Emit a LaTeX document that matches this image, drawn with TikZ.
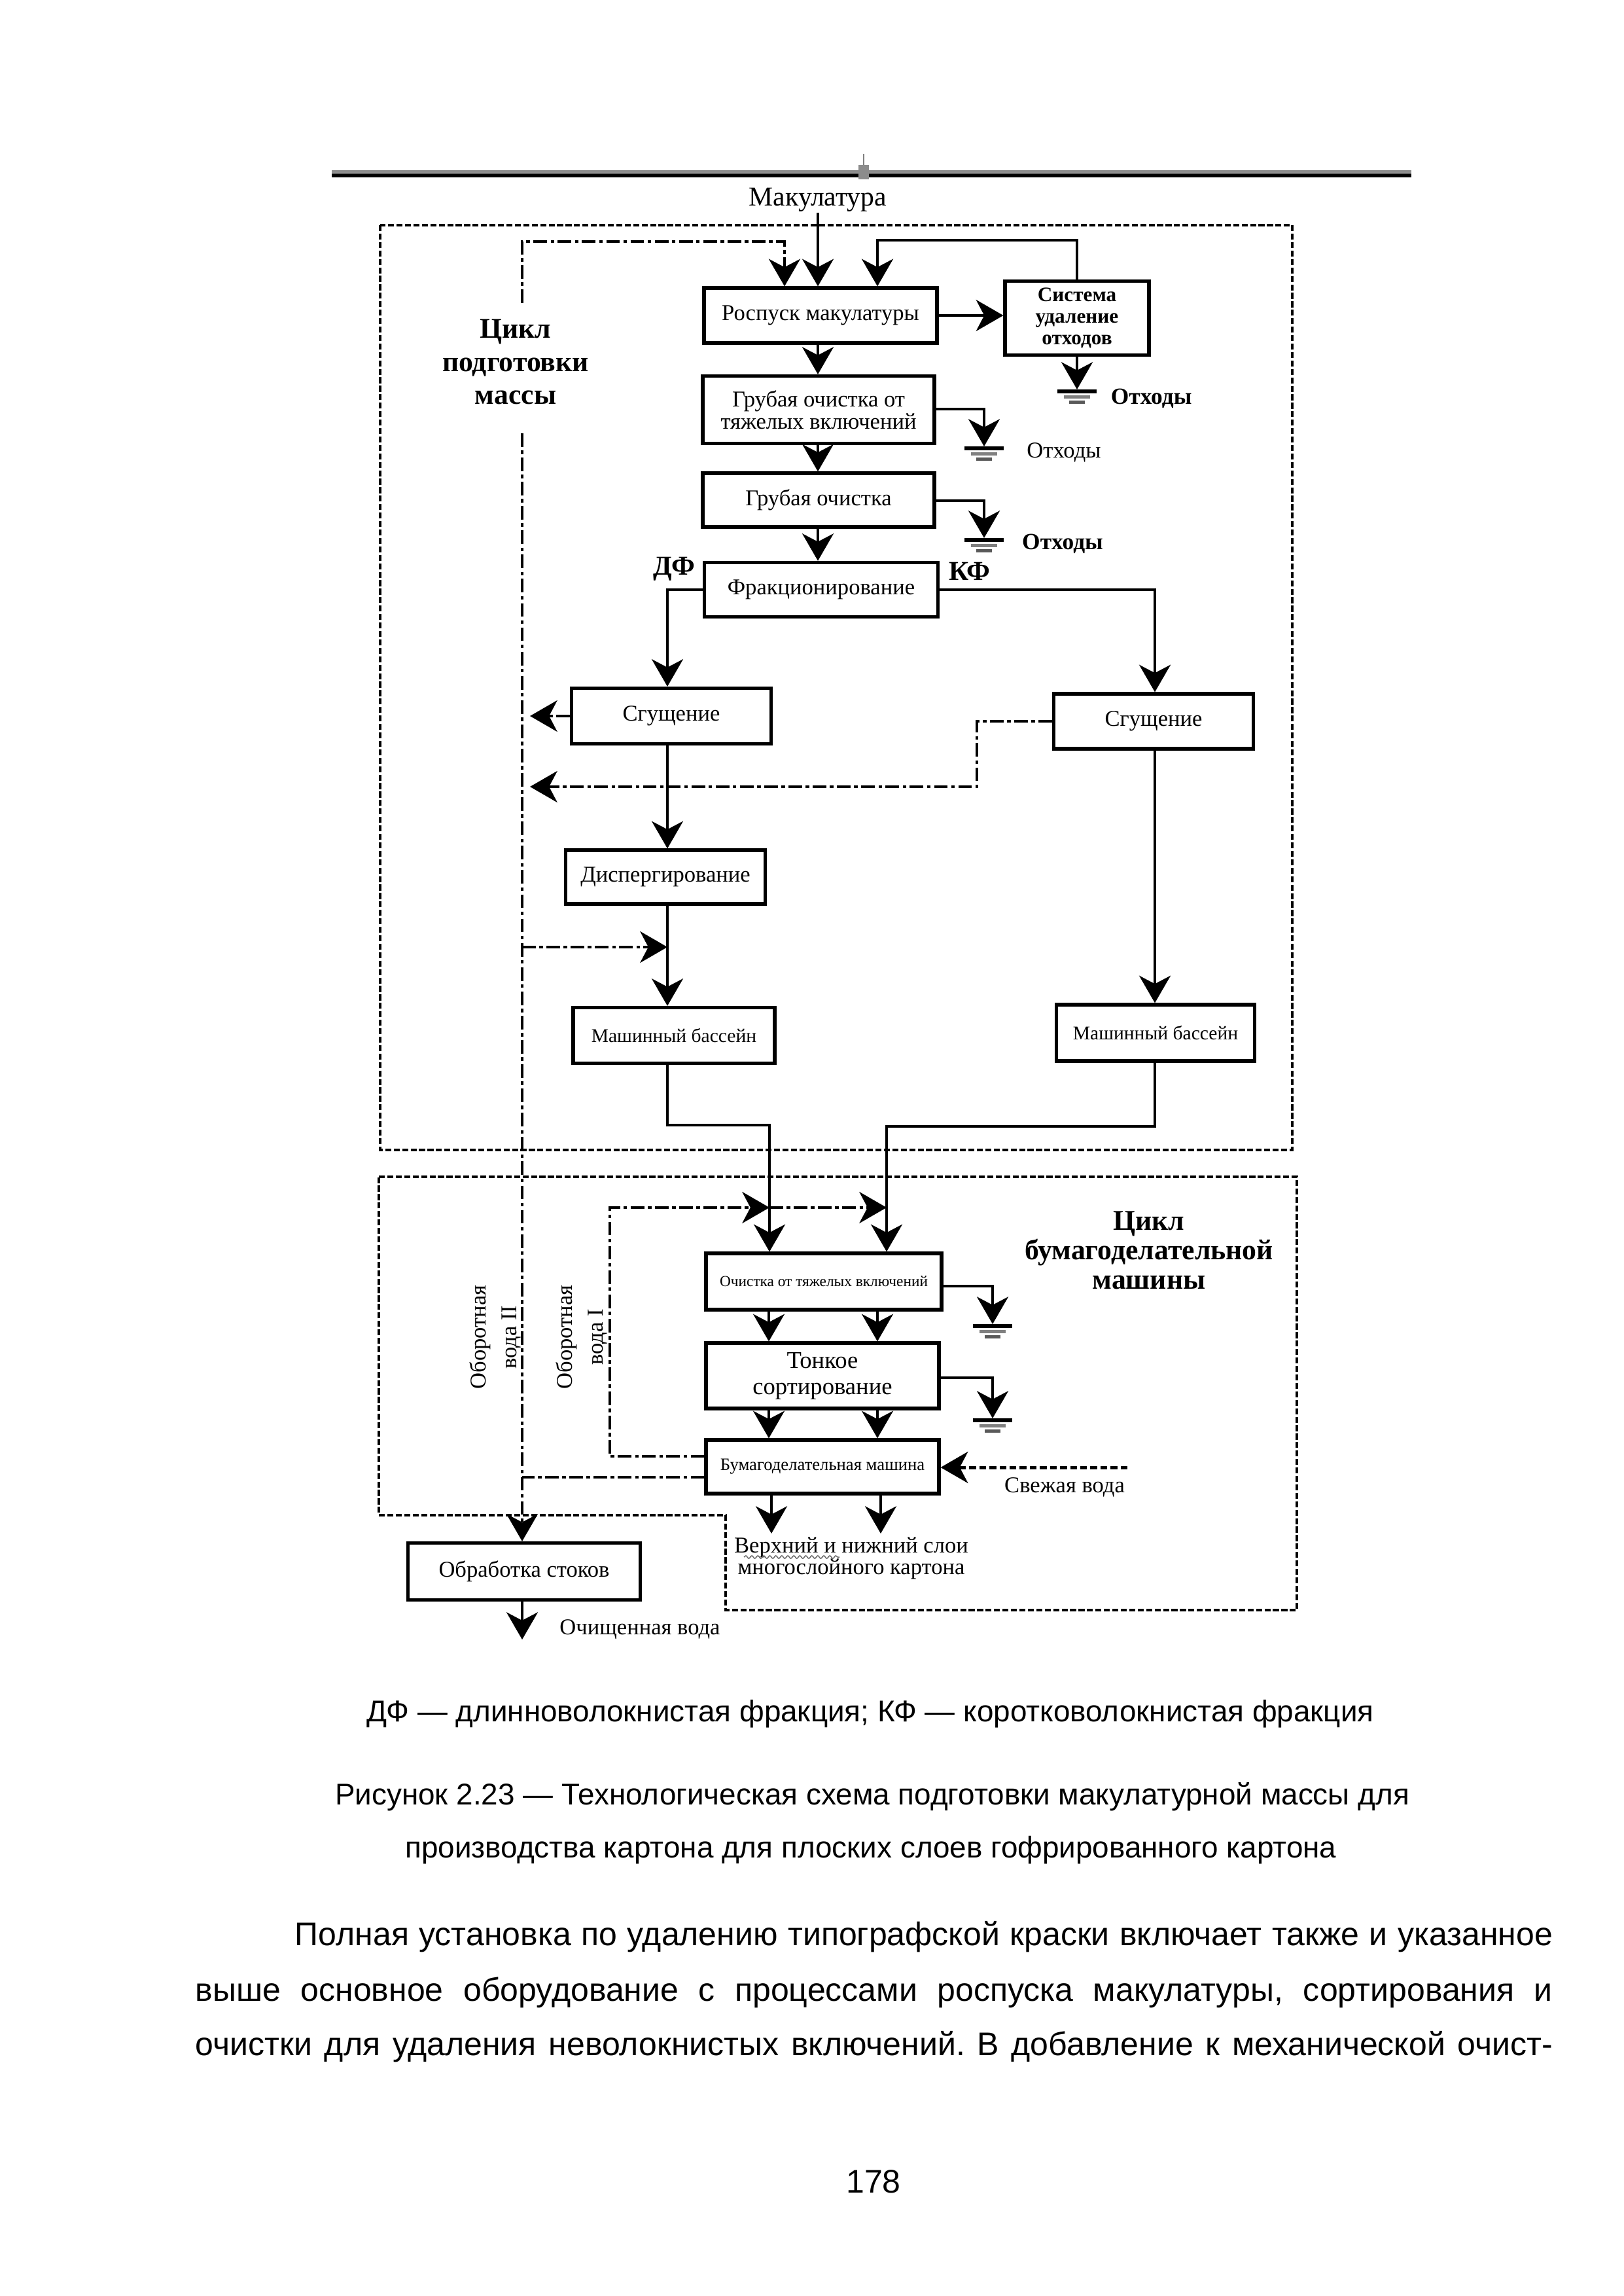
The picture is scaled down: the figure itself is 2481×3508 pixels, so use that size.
\documentclass[tikz,border=0pt]{standalone}
\usepackage{fontspec}
\setmainfont{Liberation Serif}
\newfontfamily\capfont{Liberation Sans}
\usetikzlibrary{arrows.meta,decorations.pathmorphing}
\frenchspacing
\tikzset{
  pbox/.style 2 args={draw, fill=white, line width=1.25pt, minimum width=#1*0.24pt,
    minimum height=#2*0.24pt, inner sep=0pt, align=center,
    font=\fontsize{8.3}{8.2}\selectfont},
  tip/.style={-{Stealth[length=10pt,width=11.5pt,inset=3pt]}},
  flow/.style={line width=1pt, tip},
  fl/.style={line width=1pt},
  dd/.style={line width=1pt, dash pattern=on 5pt off 1.3pt on 1.3pt off 1.3pt},
  dda/.style={dd, tip},
  fresh/.style={line width=1.2pt, dash pattern=on 2.5pt off 1.2pt, tip},
  cycframe/.style={line width=0.8pt, dash pattern=on 2.2pt off 0.9pt},
  lbl/.style={inner sep=0pt, font=\fontsize{8.3}{9}\selectfont},
  blbl/.style={inner sep=0pt, font=\bfseries\fontsize{8.5}{9}\selectfont},
  capstyle/.style={inner sep=0pt, font=\capfont\fontsize{11}{13}\selectfont},
  bodystyle/.style={inner sep=0pt, font=\capfont\fontsize{12}{14}\selectfont},
  ground/.pic={
    \fill (-30,0) rectangle (30,6);
    \fill[black!50] (-20,9) rectangle (20,14);
    \fill[black!65] (-12,17) rectangle (12,22);
  }
}
\begin{document}
\begin{tikzpicture}[x=0.24pt,y=-0.24pt]
\fill[white] (0,0) rectangle (2481,3508);
\useasboundingbox (0,0) rectangle (2481,3508);

% page rule and anchor marker
\draw[black!45, line width=0.8pt] (507,262) -- (2157,262);
\draw[line width=1.3pt] (507,268) -- (2157,268);
\draw[black!50, line width=0.3pt] (1320,235) -- (1320,252);
\fill[black!45] (1312,252) rectangle (1328,274);

% frames
\draw[cycframe] (581,344) rectangle (1975,1757);
\draw[cycframe] (579,1798) -- (1982,1798) -- (1982,2460) -- (1109,2460) -- (1109,2315) -- (579,2315) -- cycle;

% reference columns
\coordinate (colM) at (1250,0);
\coordinate (colL) at (1020,0);
\coordinate (colR) at (1765,0);
\coordinate (colC) at (1175,0);
\coordinate (colD) at (1341,0);
\coordinate (bus) at (798,0);
\coordinate (tipL) at (810,0);

% nodes
\node[lbl, font=\fontsize{10}{12}\selectfont, anchor=base] (makul) at (1250,315) {Макулатура};
\node[pbox={356}{84}] (rosp) at (1254,482) {Роспуск макулатуры};
\node[pbox={220}{113}, font=\bfseries\fontsize{7.5}{7.9}\selectfont] (sist) at (1646,486) {Система\\удаление\\отходов};
\node[pbox={354}{103}] (grA) at (1251,626) {Грубая очистка от\\тяжелых включений};
\node[pbox={354}{82}] (grB) at (1251,764) {Грубая очистка};
\node[pbox={357}{83}] (frak) at (1255,901) {Фракционирование};
\node[pbox={305}{85}] (sgL) at (1026,1094) {Сгущение};
\node[pbox={305}{84}] (sgR) at (1763,1102) {Сгущение};
\node[pbox={305}{82}] (disp) at (1017,1340) {Диспергирование};
\node[pbox={308}{85}, font=\fontsize{7.1}{8}\selectfont] (mbL) at (1030,1582) {Машинный бассейн};
\node[pbox={303}{86}, font=\fontsize{7.1}{8}\selectfont] (mbR) at (1766,1578) {Машинный бассейн};
\node[pbox={360}{86}, font=\fontsize{5.6}{7}\selectfont] (och) at (1259,1958) {Очистка от тяжелых включений};
\node[pbox={356}{100}, font=\fontsize{8.8}{9.6}\selectfont] (tonk) at (1257,2102) {Тонкое\\сортирование};
\node[pbox={356}{82}, font=\fontsize{6.4}{7}\selectfont] (bum) at (1257,2241) {Бумагоделательная машина};
\node[pbox={355}{87}] (obr) at (801,2401) {Обработка стоков};

% labels
\node[inner sep=0pt, align=center, font=\bfseries\fontsize{10.5}{12.2}\selectfont] (cyc1) at (788,553) {Цикл\\подготовки\\массы};
\node[inner sep=0pt, align=center, font=\bfseries\fontsize{10.5}{10.8}\selectfont] (cyc2) at (1756,1910) {Цикл\\бумагоделательной\\машины};
\node[inner sep=0pt, font=\bfseries\fontsize{10}{11}\selectfont, anchor=base] (df) at (1030,879) {ДФ};
\node[inner sep=0pt, font=\bfseries\fontsize{10}{11}\selectfont, anchor=base] (kf) at (1482,887) {КФ};
\node[blbl, anchor=base west] (ot1) at (1697,618) {Отходы};
\node[lbl, anchor=base] (ot2) at (1626,700) {Отходы};
\node[blbl, anchor=base] (ot3) at (1624,840) {Отходы};
\node[lbl, anchor=base] (fwl) at (1627,2280) {Свежая вода};
\node[lbl, align=center, font=\fontsize{8.3}{7.9}\selectfont, anchor=north] (outl) at (1301,2348) {Верхний и нижний слои\\многослойного картона};
\node[lbl, anchor=base] (cwl) at (978,2497) {Очищенная вода};
\node[inner sep=0pt, rotate=90, align=center, font=\fontsize{8.3}{11.3}\selectfont] (ow2) at (757,2043) {Оборотная\\вода II};
\node[inner sep=0pt, rotate=90, align=center, font=\fontsize{8.3}{11.3}\selectfont] (ow1) at (889,2043) {Оборотная\\вода I};
\draw[black!60, line width=0.35pt, decorate, decoration={snake, amplitude=0.5pt, segment length=2.2pt}] (1137,2379) -- (1283,2379);

% ground coordinates
\coordinate (g1) at (1646,595);
\coordinate (g2) at (1504,682);
\coordinate (g3) at (1504,822);
\coordinate (g4) at (1517,2023);
\coordinate (g5) at (1517,2167);
\foreach \g in {g1,g2,g3,g4,g5} \pic at (\g) {ground};

% main flow
\draw[flow] (makul.south) -- (makul.south |- rosp.north);
\coordinate (lp) at (1341,367);
\draw[flow] (sist.north) |- (lp) -- (lp |- rosp.north);
\draw[flow] (rosp.east) -- (rosp.east -| sist.west);
\draw[flow] (sist.south) -- (g1);
\draw[flow] (rosp.south -| colM) -- (grA.north -| colM);
\coordinate (e2) at (0,625);
\draw[flow] (grA.east |- e2) -| (g2);
\draw[flow] (grA.south -| colM) -- (grB.north -| colM);
\coordinate (e3) at (0,765);
\draw[flow] (grB.east |- e3) -| (g3);
\draw[flow] (grB.south -| colM) -- (frak.north -| colM);
\draw[flow] (frak.west) -| (sgL.north -| colL);
\draw[flow] (frak.east) -| (sgR.north -| colR);
\draw[flow] (sgL.south -| colL) -- (disp.north -| colL);
\draw[flow] (disp.south -| colL) -- (mbL.north -| colL);
\draw[flow] (sgR.south -| colR) -- (mbR.north -| colR);
\coordinate (jL) at (1176,1719);
\coordinate (jR) at (1355,1721);
\draw[flow] (mbL.south -| colL) |- (jL) -- (jL |- och.north);
\draw[flow] (mbR.south -| colR) |- (jR) -- (jR |- och.north);
\draw[flow] (och.south -| colC) -- (tonk.north -| colC);
\draw[flow] (och.south -| colD) -- (tonk.north -| colD);
\coordinate (e4) at (0,1965);
\draw[flow] (och.east |- e4) -| (g4);
\draw[flow] (tonk.south -| colC) -- (bum.north -| colC);
\draw[flow] (tonk.south -| colD) -- (bum.north -| colD);
\coordinate (e5) at (0,2105);
\draw[flow] (tonk.east |- e5) -| (g5);
\coordinate (o1) at (1179,2343);
\coordinate (o2) at (1346,2343);
\draw[flow] (bum.south -| o1) -- (o1);
\draw[flow] (bum.south -| o2) -- (o2);
\coordinate (ow) at (798,2505);
\draw[flow] (obr.south -| bus) -- (ow);

% water circuits
\coordinate (w1) at (798,463);
\coordinate (w1b) at (798,369);
\coordinate (rin) at (1199,369);
\draw[dda] (w1) -- (w1b) -- (rin) -- (rin |- rosp.north);
\coordinate (w2) at (798,662);
\draw[dda] (w2) -- (obr.north -| bus);
\draw[dda] (sgL.west) -- (sgL.west -| tipL);
\coordinate (k1) at (1493,1202);
\draw[dda] (sgR.west) -| (k1) -- (k1 -| tipL);
\coordinate (w3) at (798,1447);
\draw[dda] (w3) -- (w3 -| colL);
\coordinate (b1) at (0,2225);
\coordinate (v1) at (932,1845);
\draw[dda] (b1 -| bum.west) -| (v1) -- (v1 -| jL);
\draw[dda] (v1 -| jL) -- (v1 -| jR);
\coordinate (b2) at (0,2257);
\draw[dd] (b2 -| bum.west) -- (b2 -| bus);
\coordinate (fw) at (1723,2242);
\draw[fresh] (fw) -- (fw -| bum.east);

% caption and body text
\node[capstyle, anchor=base] (capA) at (1330,2630) {ДФ — длинноволокнистая фракция; КФ — коротковолокнистая фракция};
\node[capstyle, anchor=base] (capB) at (1333,2757) {Рисунок 2.23 — Технологическая схема подготовки макулатурной массы для};
\node[capstyle, anchor=base] (capC) at (1331,2838) {производства картона для плоских слоев гофрированного картона};
\node[bodystyle, anchor=base west] (p1) at (450,2972) {\makebox[461.3pt][s]{Полная установка по удалению типографской краски включает также и указанное}};
\node[bodystyle, anchor=base west] (p2) at (298,3057) {\makebox[497.8pt][s]{выше основное оборудование с процессами роспуска макулатуры, сортирования и}};
\node[bodystyle, anchor=base west] (p3) at (298,3140) {\makebox[497.8pt][s]{очистки для удаления неволокнистых включений. В добавление к механической очист-}};
\node[bodystyle, anchor=base] (pg) at (1335,3350) {178};
\end{tikzpicture}
\end{document}
